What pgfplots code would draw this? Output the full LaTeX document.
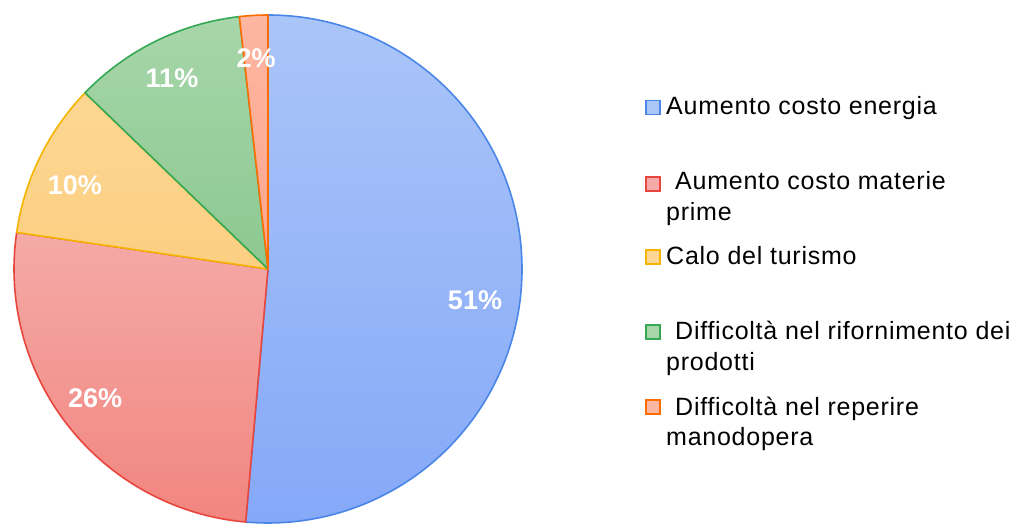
\documentclass[border=0pt]{standalone}
\usepackage{fontspec}
\setmainfont{Liberation Sans}[Ligatures=NoCommon]
\newfontfamily\legfont{Liberation Sans}[LetterSpace=3,Ligatures=NoCommon]
\usepackage{pgfplots}
\usepackage{pgfplotstable}
\pgfplotsset{compat=1.18}

% slice colours: top/bottom of the gradient and the edge
\definecolor{top0}{HTML}{AAC5F8}\definecolor{bot0}{HTML}{85A8F8}\definecolor{edge0}{HTML}{4A86E8}
\definecolor{top1}{HTML}{F4AAA7}\definecolor{bot1}{HTML}{F2857F}\definecolor{edge1}{HTML}{E8453C}
\definecolor{top2}{HTML}{FDD793}\definecolor{bot2}{HTML}{FCCF82}\definecolor{edge2}{HTML}{F4B400}
\definecolor{top3}{HTML}{A7D6AA}\definecolor{bot3}{HTML}{8CC88F}\definecolor{edge3}{HTML}{34A853}
\definecolor{top4}{HTML}{FDB6A1}\definecolor{bot4}{HTML}{FCA68D}\definecolor{edge4}{HTML}{FF6D01}

\newcommand{\pctstyle}{\fontsize{27}{30}\selectfont\bfseries}
\newcommand{\legstyle}{\legfont\fontsize{25}{28}\selectfont}

% share (percent), label position in axis units
\pgfplotstableread{
val  lx     ly
51.4 0.815  -0.122
25.9 -0.681 -0.508
9.9  -0.760 0.331
11.0 -0.378 0.752
1.8  -0.047 0.831
}\piedata

\def\pieR{254pt}

\begin{document}
\begin{tikzpicture}
\path[use as bounding box] (0,0) rectangle (1014pt,525pt);
\begin{axis}[
    at={(268pt,256pt)}, anchor=origin,
    scale only axis, width=508pt, height=508pt,
    xmin=-1, xmax=1, ymin=-1, ymax=1,
    hide axis, clip=false,
]
\xdef\cum{0}
\pgfplotsinvokeforeach{0,...,4}{
    \pgfplotstablegetelem{#1}{val}\of\piedata \let\v\pgfplotsretval
    \pgfmathsetmacro\sa{90-3.6*\cum}
    \pgfmathsetmacro\ea{90-3.6*(\cum+\v)}
    \edef\temp{\noexpand\path[top color=top#1, bottom color=bot#1,
        draw=edge#1, line width=1.6pt, line join=round]
        (axis cs:0,0) -- (axis cs:{cos(\sa)},{sin(\sa)})
        arc[start angle=\sa, end angle=\ea, radius=\pieR] -- cycle;}
    \temp
    \pgfmathsetmacro\nc{\cum+\v}
    \xdef\cum{\nc}
}
\pgfplotsinvokeforeach{0,...,4}{
    \pgfplotstablegetelem{#1}{val}\of\piedata
    \pgfmathtruncatemacro\r{round(\pgfplotsretval)}
    \pgfplotstablegetelem{#1}{lx}\of\piedata \let\lx\pgfplotsretval
    \pgfplotstablegetelem{#1}{ly}\of\piedata \let\ly\pgfplotsretval
    \edef\temp{\noexpand\node[text=white, font=\noexpand\pctstyle]
        at (axis cs:\lx,\ly) {\r\noexpand\%};}
    \temp
}
\end{axis}

% legend
\foreach \i/\y in {0/417.5, 1/341, 2/268, 3/193, 4/118} {
    \path[fill=top\i, draw=edge\i, line width=1.4pt]
        (646pt,\y pt-7pt) rectangle (660pt,\y pt+7pt);
}
\begin{scope}[every node/.style={anchor=base west, inner sep=0pt, font=\legstyle}]
\node at (666pt,410pt) {Aumento costo energia};
\node at (675pt,335pt) {Aumento costo materie};
\node at (666pt,304pt) {prime};
\node at (666pt,260pt) {Calo del turismo};
\node at (675pt,185pt) {Difficoltà nel rifornimento dei};
\node at (666pt,154pt) {prodotti};
\node at (675pt,110pt) {Difficoltà nel reperire};
\node at (666pt,80pt) {manodopera};
\end{scope}
\end{tikzpicture}
\end{document}
